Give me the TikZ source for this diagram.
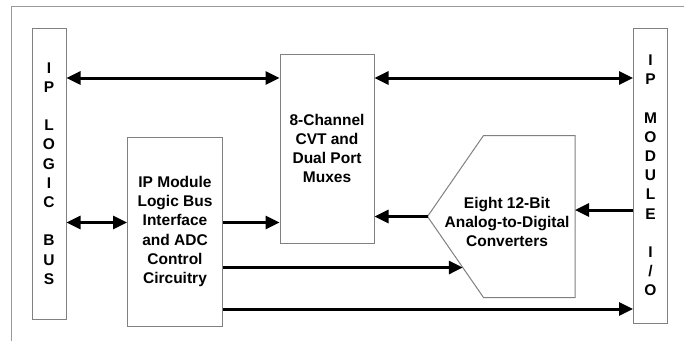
\documentclass[tikz,border=0pt]{standalone}
\usepackage{fontspec}
\setmainfont{Liberation Sans}
\usepackage{tikz}
\usetikzlibrary{arrows.meta,calc,positioning}

\tikzset{
  blk/.style={draw=black!50, line width=1pt, inner sep=0pt, align=center},
  frame/.style={draw=black!50, line width=1pt},
  bus/.style={line width=3pt, -{Triangle[length=14pt,width=13pt]}},
  dbus/.style={line width=3pt, {Triangle[length=14pt,width=13pt]}-{Triangle[length=14pt,width=13pt]}},
}

\begin{document}
\begin{tikzpicture}[x=1pt, y=-1pt, font=\bfseries\fontsize{15.5}{19.2}\selectfont]
\useasboundingbox (0,0) rectangle (684,341);
\draw[frame, black!40] (11.5,341) -- (11.5,6.5) -- (684,6.5);

\node[blk, minimum width=34pt, minimum height=291pt] (lbus) at (49,173.5) {I\\P\\~\\L\\O\\G\\I\\C\\~\\B\\U\\S};
\node[blk, minimum width=34pt, minimum height=295pt] (rbus) at (650.5,175.5) {I\\P\\~\\M\\O\\D\\U\\L\\E\\~\\I\\/\\O};
\node[blk, minimum width=94pt, minimum height=189pt] (cvt) at (327,148.5) {8-Channel\\CVT and\\Dual Port\\Muxes};
\node[blk, minimum width=95pt, minimum height=189pt] (ipm) at (175,231.5) {IP Module\\Logic Bus\\Interface\\and ADC\\Control\\Circuitry};

\coordinate (adctip) at (427.5,216.5);
\coordinate (adctl) at (483.5,135.5);
\coordinate (adctr) at (575,135.5);
\coordinate (adcbr) at (575,297.5);
\coordinate (adcbl) at (483.5,297.5);
\draw[frame] (adctip) -- (adctl) -- (adctr) -- (adcbr) -- (adcbl) -- cycle;
\node[align=center] (adc) at (507,222) {Eight 12-Bit\\Analog-to-Digital\\Converters};
\path (adctip) -- (adcbl) coordinate[pos=0.63] (adcin);

\coordinate (ytop) at (0,78);
\coordinate (ymid) at (0,222.5);
\coordinate (yio) at (0,210);
\coordinate (ybot) at (0,309);

\draw[dbus] (lbus.east |- ytop) -- (cvt.west |- ytop);
\draw[dbus] (cvt.east |- ytop) -- (rbus.west |- ytop);
\draw[dbus] (lbus.east |- ymid) -- (ipm.west |- ymid);
\draw[bus] (ipm.east |- ymid) -- (cvt.west |- ymid);
\draw[bus] (adctip) -- (cvt.east |- adctip);
\draw[bus] (rbus.west |- yio) -- (adctr |- yio);
\draw[bus] (ipm.east |- adcin) -- (adcin);
\draw[bus] (ipm.east |- ybot) -- (rbus.west |- ybot);
\end{tikzpicture}
\end{document}
